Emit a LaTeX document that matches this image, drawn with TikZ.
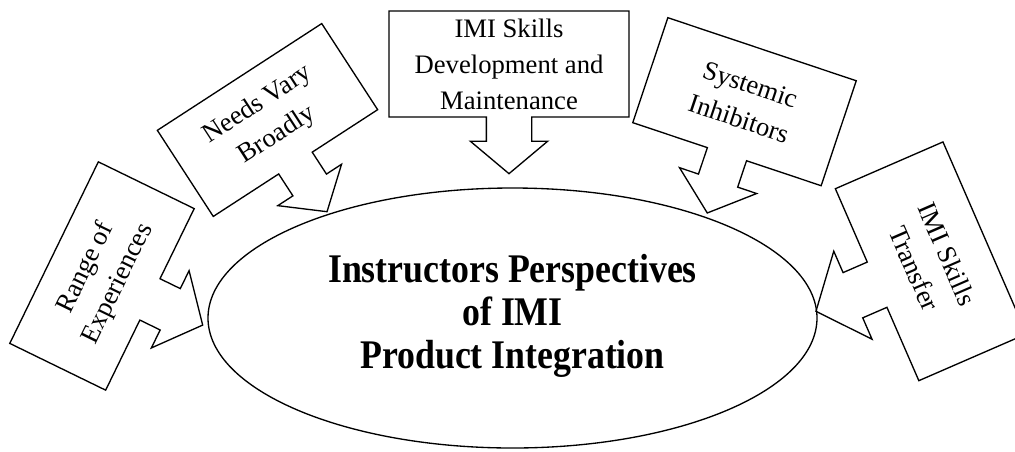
\documentclass[tikz,border=0pt]{standalone}
\usepackage{fontspec}
\setmainfont{Liberation Serif}
\newfontfamily\titlefont[FakeStretch=0.88]{Liberation Serif}
\usetikzlibrary{shapes.arrows,shapes.geometric}

\begin{document}
\begin{tikzpicture}[x=0.75pt,y=-0.75pt,line width=1pt,
  box node/.style={arrow box,draw,align=center,font=\fontsize{20}{27}\selectfont,arrow box tip angle=100},
  main node/.style={ellipse,draw,minimum width=456.75pt,minimum height=195pt}]
  \useasboundingbox (0,0) rectangle (1015,451);

  \node[main node] (main) at (512.5,318) {};
  \node[align=center,font=\titlefont\bfseries\fontsize{30.5}{32.25}\selectfont] (title) at (512.5,316) {Instructors Perspectives\\of IMI\\Product Integration};

  \node[box node,rotate=64,minimum width=151.5pt,minimum height=80pt,arrow box arrows={south:43.5pt},arrow box shaft width=34.5pt,arrow box head extend=15pt] (range) at (102,276) {Range of\\Experiences};
  \node[box node,rotate=33,minimum width=147pt,minimum height=77pt,arrow box arrows={south:43pt},arrow box shaft width=30pt,arrow box head extend=13.5pt] (needs) at (267.5,120) {Needs Vary\\Broadly};
  \node[box node,minimum width=180pt,minimum height=79.5pt,arrow box arrows={south:42pt},arrow box shaft width=34pt,arrow box head extend=12pt] (dev) at (509,64) {IMI Skills\\Development and\\Maintenance};
  \node[box node,rotate=-18.5,minimum width=149pt,minimum height=83pt,arrow box arrows={south:46pt},arrow box shaft width=31pt,arrow box head extend=15pt] (inhib) at (744.5,101.7) {Systemic\\Inhibitors};
  \node[box node,rotate=-66.5,minimum width=157pt,minimum height=88pt,arrow box arrows={south:49.5pt},arrow box shaft width=37pt,arrow box head extend=17.5pt] (transfer) at (930.9,261.3) {IMI Skills\\Transfer};
\end{tikzpicture}
\end{document}
